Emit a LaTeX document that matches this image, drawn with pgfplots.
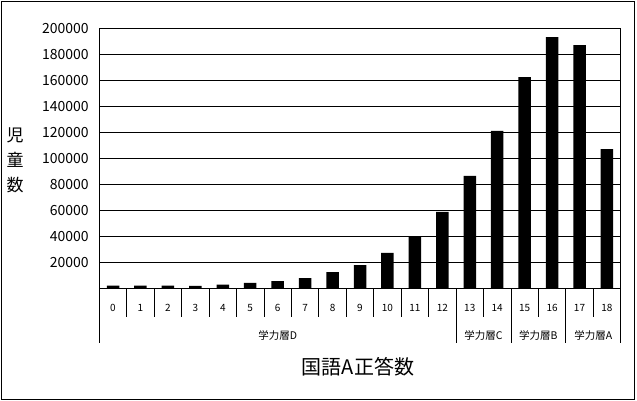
\documentclass[border=0pt]{standalone}
\usepackage{pgfplots}
\pgfplotsset{compat=1.18}
\usepackage{fontspec}
\setmainfont{Noto Sans CJK JP}
\begin{document}
\begin{tikzpicture}[x=1pt,y=1pt]
\useasboundingbox (0,0) rectangle (637,401);
\draw[line width=1pt] (1.5,1.5) rectangle (634.5,399.5);
\node[align=center, font=\fontsize{17}{25}\selectfont] at (15,241) {児\\童\\数};
\node[font=\fontsize{20}{20}\selectfont] at (358,34) {国語A正答数};
\begin{axis}[
  at={(99.3pt,112.7pt)}, anchor=south west,
  scale only axis, width=521.4pt, height=260pt,
  xmin=-0.5, xmax=18.5, ymin=0, ymax=200000,
  ytick={20000,40000,...,200000},
  ymajorgrids,
  major grid style={black, line width=0.8pt},
  axis line style={line width=0.8pt},
  major tick length=0pt,
  xtick=\empty,
  scaled y ticks=false,
  yticklabel style={font=\fontsize{14}{14}\selectfont, /pgf/number format/fixed, /pgf/number format/1000 sep={}, /pgf/number format/assume math mode=true, xshift=-7pt},
  ybar, bar width=12.5pt,
  clip=false,
]
\addplot[fill=black, draw=none] coordinates {
(0,2000) (1,2000) (2,2000) (3,1800) (4,2800) (5,4100) (6,5600) (7,7900) (8,12500) (9,17900) (10,27200) (11,40000) (12,58700) (13,86400) (14,121000) (15,162500) (16,193300) (17,187150) (18,107100)
};
\pgfplotsinvokeforeach{0.5,1.5,2.5,3.5,4.5,5.5,6.5,7.5,8.5,9.5,10.5,11.5,13.5,15.5,17.5}{
  \draw[line width=0.8pt] (axis cs:#1,0) -- ([yshift=-29pt]axis cs:#1,0);
}
\pgfplotsinvokeforeach{-0.5,12.5,14.5,16.5,18.5}{
  \draw[line width=0.8pt] (axis cs:#1,0) -- ([yshift=-55pt]axis cs:#1,0);
}
\pgfplotsinvokeforeach{0,1,...,18}{
  \node[font=\fontsize{10}{10}\selectfont] at ([yshift=-20pt]axis cs:#1,0) {#1};
}
\node[font=\fontsize{10.5}{10}\selectfont] at ([yshift=-47pt]axis cs:6,0) {学力層D};
\node[font=\fontsize{10.5}{10}\selectfont] at ([yshift=-47pt]axis cs:13.5,0) {学力層C};
\node[font=\fontsize{10.5}{10}\selectfont] at ([yshift=-47pt]axis cs:15.5,0) {学力層B};
\node[font=\fontsize{10.5}{10}\selectfont] at ([yshift=-47pt]axis cs:17.5,0) {学力層A};
\end{axis}
\end{tikzpicture}
\end{document}
